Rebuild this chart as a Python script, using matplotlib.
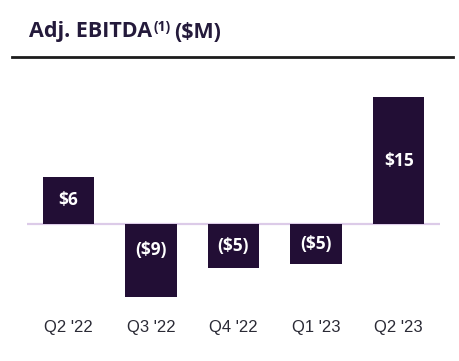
import matplotlib.pyplot as plt
from matplotlib.lines import Line2D

# data
quarters = ["Q2 '22", "Q3 '22", "Q4 '22", "Q1 '23", "Q2 '23"]
ebitda = [5.8, -8.9, -5.4, -4.9, 15.5]
labels = ["$6", "($9)", "($5)", "($5)", "$15"]

bar_color = '#220e35'
line_color = '#dccbe8'
title_color = '#241a3b'

fig = plt.figure(figsize=(4.6, 3.61), dpi=100)
ax = fig.add_axes([27 / 460, 55 / 361, 413 / 460, 217 / 361])

x = range(len(quarters))
ax.bar(x, ebitda, width=0.62, color=bar_color, zorder=2)
ax.axhline(0, color=line_color, lw=1.6, zorder=1)

# value labels inside the bars
for i, v in enumerate(ebitda):
    y = v / 2 if v > 0 else max(v / 2, -3.2)
    ax.text(i, y, labels[i], ha='center', va='center', color='white',
            fontsize=12.5, fontweight='bold', family='Open Sans')

ax.set_xlim(-0.5, 4.5)
ax.set_ylim(-10, 16.5)
ax.set_xticks(list(x))
ax.set_xticklabels(quarters, fontsize=12, color='#2a2a35', family='Liberation Sans')
ax.tick_params(axis='x', length=0, pad=10)
ax.set_yticks([])
for s in ax.spines.values():
    s.set_visible(False)

# title pieces: main text, superscript, unit
ty = 1 - 32 / 361
renderer = fig.canvas.get_renderer()
t1 = fig.text(29 / 460, ty, 'Adj. EBITDA', ha='left', va='center',
              fontsize=15.5, fontweight='bold', color=title_color, family='Open Sans')
bb = t1.get_window_extent(renderer)
t2 = fig.text(bb.x1 / 460 + 0.002, ty + 0.014, '(1)', ha='left', va='center',
              fontsize=10, fontweight='bold', color=title_color, family='Open Sans')
bb2 = t2.get_window_extent(renderer)
fig.text(bb2.x1 / 460 + 0.009, ty, '($M)', ha='left', va='center',
         fontsize=15.5, fontweight='bold', color=title_color, family='Open Sans')
fig.add_artist(Line2D([12 / 460, 453 / 460], [1 - 57 / 361, 1 - 57 / 361],
                      color='#1c1c1c', lw=2))

fig.savefig('out.png', dpi=100)
